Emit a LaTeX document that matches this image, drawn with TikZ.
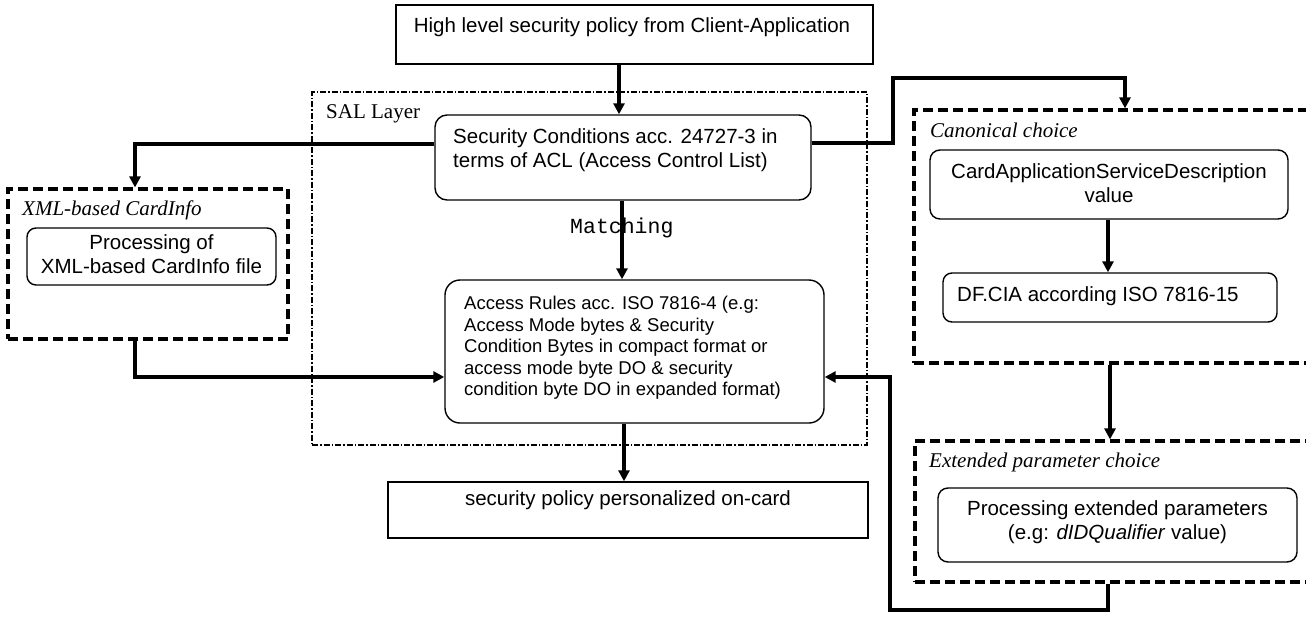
\documentclass[tikz,border=0pt]{standalone}
\usepackage{fontspec}
\setmainfont{Liberation Sans}
\newfontfamily\labelfont{Liberation Serif}
\newfontfamily\codefont{Liberation Mono}
\usetikzlibrary{arrows.meta}

\tikzset{
  plainbox/.style={draw, line width=1.4pt, inner sep=0pt},
  roundbox/.style={draw, line width=1.4pt, rounded corners=12pt, inner sep=0pt},
  groupbox/.style={draw, line width=3.2pt, dash pattern=on 10pt off 5pt, inner sep=0pt},
  layerbox/.style={draw, line width=1.5pt, dash pattern=on 6pt off 2pt on 1.5pt off 2pt, inner sep=0pt},
  body/.style={font=\fontsize{20.5}{24}\selectfont, inner sep=0pt},
  smallbody/.style={font=\fontsize{18.5}{21.5}\selectfont, inner sep=0pt, align=left},
  grouptitle/.style={font=\labelfont\itshape\fontsize{21}{24}\selectfont, inner sep=0pt, anchor=base west},
  layertitle/.style={font=\labelfont\fontsize{21}{24}\selectfont, inner sep=0pt, anchor=base west},
  conn/.style={line width=3.2pt, -{Triangle[length=11pt,width=11pt]}},
}

\begin{document}
\begin{tikzpicture}[x=1pt,y=-1pt]
  \useasboundingbox (0,0) rectangle (1306,621);
  \clip (0,0) rectangle (1306,621);

  % SAL layer frame
  \node[layerbox, minimum width=555pt, minimum height=353pt] (sal) at (589.5,268.5) {};
  \node[layertitle] (saltitle) at (326,118) {SAL Layer};

  % main column
  \node[plainbox, minimum width=477pt, minimum height=59pt] (top) at (634.5,34.5) {};
  \node[body] (toptext) at (632,27) {High level security policy from Client-Application};

  \node[roundbox, minimum width=376pt, minimum height=85pt] (sc) at (623,157.5) {};
  \node[body, align=left, anchor=west] (sctext) at (453,150)
    {Security Conditions acc. 24727-3 in\\terms of ACL (Access Control List)};

  \node[roundbox, rounded corners=15pt, minimum width=379pt, minimum height=143pt] (ar) at (634.5,351.5) {};
  \node[smallbody, anchor=west] (artext) at (464,348)
    {Access Rules acc. ISO 7816-4 (e.g:\\
     Access Mode bytes \& Security\\
     Condition Bytes in compact format or\\
     access mode byte DO \& security\\
     condition byte DO in expanded format)};

  \node[plainbox, minimum width=480pt, minimum height=56pt] (sp) at (628,510) {};
  \node[body] (sptext) at (628,500) {security policy personalized on-card};

  \node[font=\codefont\fontsize{21.5}{24}\selectfont, inner sep=0pt, anchor=base west] (match) at (570,233) {Matching};

  % XML-based CardInfo group
  \node[groupbox, minimum width=280pt, minimum height=150pt] (xmlgrp) at (148,264) {};
  \node[grouptitle] (xmltitle) at (22,215) {XML-based CardInfo};
  \node[roundbox, rounded corners=9pt, minimum width=249pt, minimum height=57pt] (xmlproc) at (151.5,256.5) {};
  \node[body, align=center] (xmltext) at (151.5,254) {Processing of\\XML-based CardInfo file};

  % Canonical choice group
  \node[groupbox, minimum width=408pt, minimum height=253pt] (canon) at (1118,236.5) {};
  \node[grouptitle] (canontitle) at (930,137) {Canonical choice};
  \node[roundbox, rounded corners=10pt, minimum width=358pt, minimum height=69pt] (casd) at (1109,184.5) {};
  \node[body, align=center] (casdtext) at (1109,183.5) {CardApplicationServiceDescription\\value};
  \node[roundbox, rounded corners=9pt, minimum width=334pt, minimum height=49pt] (dfcia) at (1110,297.5) {};
  \node[body, anchor=west] (dfciatext) at (957,296) {DF.CIA according ISO 7816-15};

  % Extended parameter choice group
  \node[groupbox, minimum width=407pt, minimum height=141pt] (ext) at (1118.5,511.5) {};
  \node[grouptitle] (exttitle) at (929,467) {Extended parameter choice};
  \node[roundbox, rounded corners=10pt, minimum width=359pt, minimum height=74pt] (extproc) at (1117.5,525) {};
  \node[body, align=center] (exttext) at (1117.5,522)
    {Processing extended parameters\\(e.g: \textit{dIDQualifier} value)};

  % routing points
  \coordinate (xa) at (619,0);
  \coordinate (xm) at (622,0);
  \coordinate (xs) at (624,0);
  \coordinate (lft) at (135,144);
  \coordinate (rowar) at (0,377);
  \coordinate (p1) at (893,143);
  \coordinate (p2) at (893,78);
  \coordinate (xc) at (1125,0);
  \coordinate (xd) at (1108,0);
  \coordinate (xe) at (1110,0);
  \coordinate (b1) at (1108,610);
  \coordinate (b2) at (890,610);
  \coordinate (b3) at (890,377);

  % connectors
  \draw[conn] (top.south -| xa) -- (sc.north -| xa);
  \draw[conn] (sc.south -| xm) -- (ar.north -| xm);
  \draw[conn] (ar.south -| xs) -- (sp.north -| xs);
  \draw[conn] (sc.west |- lft) -| (xmlgrp.north -| lft);
  \draw[conn] (xmlgrp.south -| lft) |- (ar.west |- rowar);
  \draw[conn] (sc.east |- p1) -- (p1) -- (p2) -| (canon.north -| xc);
  \draw[conn] (casd.south -| xd) -- (dfcia.north -| xd);
  \draw[conn] (canon.south -| xe) -- (ext.north -| xe);
  \draw[conn] (ext.south -| b1) -- (b1) -- (b2) -- (b3) -- (ar.east |- b3);
\end{tikzpicture}
\end{document}
